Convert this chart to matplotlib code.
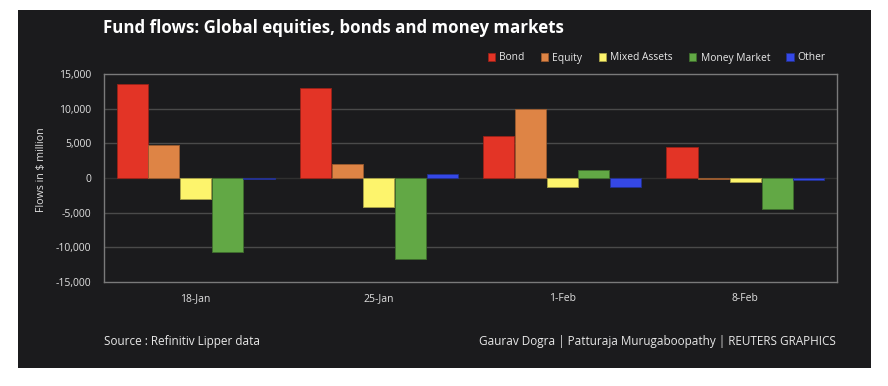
import matplotlib.pyplot as plt
import numpy as np
from matplotlib.patches import Rectangle

weeks = ["18-Jan", "25-Jan", "1-Feb", "8-Feb"]
bond = [13500, 12950, 6100, 4430]
equity = [4750, 2020, 9950, -200]
mixed = [-3000, -4180, -1250, -620]
money_market = [-10630, -11730, 1100, -4520]
other = [-200, 530, -1250, -250]

series = ["Bond", "Equity", "Mixed Assets", "Money Market", "Other"]
colors = ["#e33426", "#de8445", "#fdf46c", "#62a845", "#3548e6"]
edges = ["#9a2218", "#9a5a2e", "#a8a248", "#3f6e2d", "#22308f"]

plt.rcParams['font.family'] = ['Open Sans', 'DejaVu Sans']

W, H = 888, 386
fig = plt.figure(figsize=(W / 100, H / 100), dpi=100)
fig.patch.set_facecolor("white")
bg = "#1b1b1d"
fig.patches.append(Rectangle((18 / W, 1 - 368 / H), (871 - 18) / W, (368 - 10) / H,
                             transform=fig.transFigure, facecolor=bg, edgecolor="none", zorder=-5))

ax = fig.add_axes([104 / W, 1 - 282 / H, (837 - 104) / W, (282 - 74) / H])
ax.set_facecolor(bg)

x = np.arange(len(weeks))
width = 0.17
step = 0.173
data = [bond, equity, mixed, money_market, other]
for i, (name, vals) in enumerate(zip(series, data)):
    ax.bar(x + (i - 2) * step, vals, width, color=colors[i], edgecolor=edges[i],
           linewidth=0.6, label=name, zorder=3)

ax.set_xlim(-0.5, 3.5)
ax.set_ylim(-15000, 15000)
ax.set_yticks(np.arange(-15000, 15001, 5000))
ax.set_yticklabels([f"{v:,}" for v in range(-15000, 15001, 5000)])
ax.set_xticks(x)
ax.set_xticklabels(weeks)
ax.tick_params(colors="#e0e0e0", labelsize=7.5, length=0, pad=9)
ax.tick_params(axis="x", pad=8)
for v in [-10000, -5000, 5000, 10000]:
    ax.axhline(v, color="#4a4a4a", linewidth=1, zorder=1)
ax.axhline(0, color="#303030", linewidth=1, zorder=1)
for s in ax.spines.values():
    s.set_color("#7a7a7a")
    s.set_linewidth(1)

fig.text(41 / W, 1 - 170 / H, "Flows in $ million", color="#e0e0e0", fontsize=7.7,
         rotation=90, ha="center", va="center")

leg = fig.legend(loc="center right", bbox_to_anchor=(830 / W, 1 - 58 / H), ncol=5,
                 frameon=False, fontsize=7.4, handlelength=0.7, handleheight=0.7,
                 handletextpad=0.4, columnspacing=1.6, borderaxespad=0)
for t in leg.get_texts():
    t.set_color("#e8e8e8")

fig.text(103 / W, 1 - 28 / H, "Fund flows: Global equities, bonds and money markets",
         color="white", fontsize=12.2, fontweight="bold", va="center", ha="left")
fig.text(104 / W, 1 - 342 / H, "Source : Refinitiv Lipper data", color="#e8e8e8",
         fontsize=8.5, va="center", ha="left")
fig.text(836 / W, 1 - 342 / H, "Gaurav Dogra | Patturaja Murugaboopathy | REUTERS GRAPHICS",
         color="#e8e8e8", fontsize=8.5, va="center", ha="right")

plt.savefig("out.png", dpi=100, facecolor=fig.get_facecolor())
